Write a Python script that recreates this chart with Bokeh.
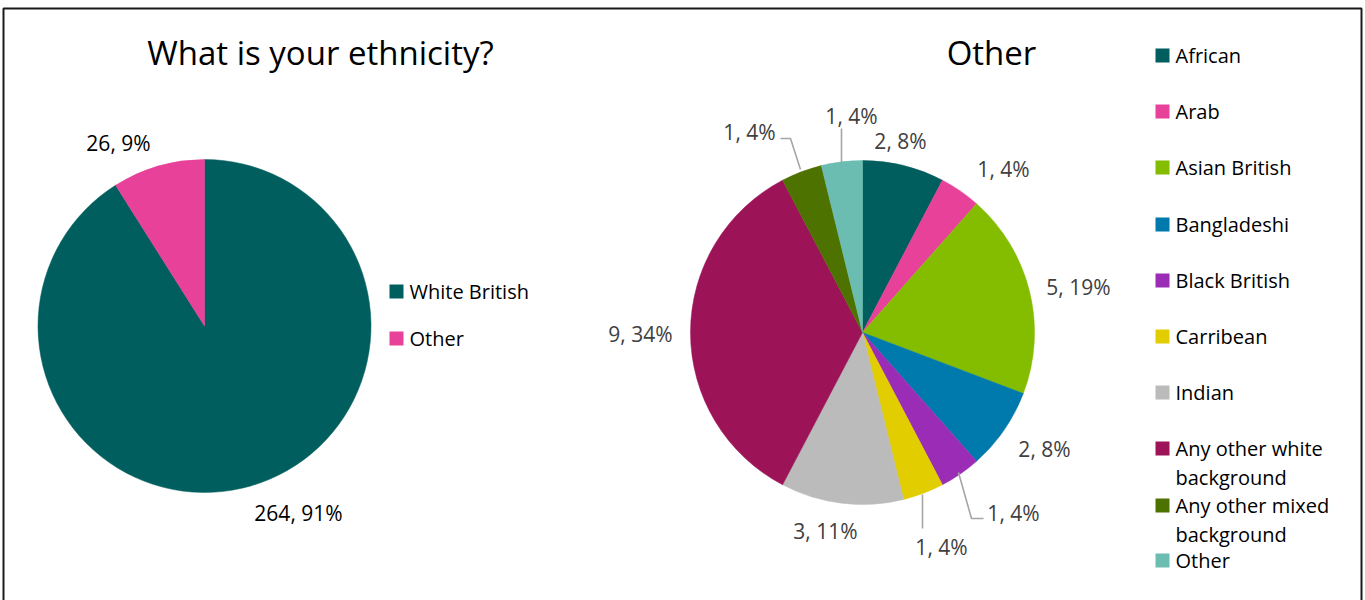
import math
from bokeh.plotting import figure
from bokeh.models import Range1d
from bokeh.embed import file_html
from bokeh.resources import INLINE
from bokeh.core.properties import value

# ---------------- data ----------------
main_categories = ["White British", "Other"]
main_values = [264, 26]
main_labels = ["264, 91%", "26, 9%"]

other_categories = ["African", "Arab", "Asian British", "Bangladeshi", "Black British",
                    "Carribean", "Indian", "Any other white background",
                    "Any other mixed background", "Other"]
other_values = [2, 1, 5, 2, 1, 1, 3, 9, 1, 1]
other_labels = ["2, 8%", "1, 4%", "5, 19%", "2, 8%", "1, 4%",
                "1, 4%", "3, 11%", "9, 34%", "1, 4%", "1, 4%"]

# ---------------- styles / layout ----------------
W, H = 1365, 600
FONT = "Open Sans"
LABEL_SIZE = "21px"
LEGEND_SIZE = "20px"
TITLE_SIZE = "33px"
main_colors = ["#005F5E", "#E8419A"]
other_colors = ["#005F5E", "#E8419A", "#84BD00", "#0079AC", "#9B2CB5",
                "#E2CD00", "#BABBBA", "#9C1358", "#4E7200", "#6BBDB1"]

def Y(sy):  # screen y -> data y
    return H - sy

p = figure(width=W, height=H, output_backend="svg", toolbar_location=None,
           x_range=Range1d(0, W), y_range=Range1d(0, H), min_border=0)
p.axis.visible = False
p.grid.visible = False
p.outline_line_color = None
p.background_fill_color = "white"
p.border_fill_color = "white"

# outer frame
p.quad(left=[3], right=[1361], top=[Y(8)], bottom=[-20], fill_alpha=0,
       line_color="#1a1a1a", line_width=2)

def pie(cx, cy, r, vals, colors):
    total = sum(vals)
    cum = 0
    starts, ends = [], []
    for v in vals:
        starts.append(math.pi / 2 - 2 * math.pi * cum / total)
        cum += v
        ends.append(math.pi / 2 - 2 * math.pi * cum / total)
    p.wedge(x=[cx] * len(vals), y=[Y(cy)] * len(vals), radius=r,
            start_angle=starts, end_angle=ends, direction="clock",
            fill_color=colors, line_color=colors, line_width=0.5)

# ---------------- left pie ----------------
pie(204, 325.5, 166.5, main_values, main_colors)
p.text(x=[320], y=[Y(52)], text=["What is your ethnicity?"], text_align="center",
       text_baseline="middle", text_font=value(FONT), text_font_size=TITLE_SIZE,
       text_color="#000000")
main_label_pos = [(298, 512), (118, 142)]
p.text(x=[q[0] for q in main_label_pos], y=[Y(q[1]) for q in main_label_pos],
       text=main_labels, text_align="center", text_baseline="middle",
       text_font=value(FONT), text_font_size=LABEL_SIZE, text_color="#000000")
# legend left
leg_y = [291, 338]
p.rect(x=[396] * 2, y=[Y(v) for v in leg_y], width=14, height=14,
       fill_color=main_colors, line_color=None)
p.text(x=[409] * 2, y=[Y(v) for v in leg_y], text=main_categories,
       text_align="left", text_baseline="middle", text_font=value(FONT),
       text_font_size=LEGEND_SIZE, text_color="#000000")

# ---------------- right pie ----------------
pie(862, 332, 172, other_values, other_colors)
p.text(x=[991], y=[Y(52)], text=["Other"], text_align="center",
       text_baseline="middle", text_font=value(FONT), text_font_size=TITLE_SIZE,
       text_color="#000000")
other_label_pos = [(900, 140), (1003, 168), (1078, 286), (1044, 448), (1013, 512),
                   (941, 546), (825, 530), (640, 333), (749, 131), (851, 115)]
p.text(x=[q[0] for q in other_label_pos], y=[Y(q[1]) for q in other_label_pos],
       text=other_labels, text_align="center", text_baseline="middle",
       text_font=value(FONT), text_font_size=LABEL_SIZE, text_color="#404040")
# leader lines
leaders = [
    [(958, 472), (971, 518), (983, 518)],
    [(922, 494), (922, 528)],
    [(800, 169), (790, 138), (780, 138)],
    [(841, 162), (841, 128)],
]
p.multi_line(xs=[[a[0] for a in l] for l in leaders],
             ys=[[Y(a[1]) for a in l] for l in leaders],
             line_color="#A6A6A6", line_width=1.6)

# legend right (long names wrap onto a second line, as in the reference)
legend_rows = [55, 111, 167, 224, 280, 336, 392, 448, 505, 560]
wrap = {"Any other white background": ("Any other white", "background"),
        "Any other mixed background": ("Any other mixed", "background")}
p.rect(x=[1162] * len(legend_rows), y=[Y(v) for v in legend_rows], width=14, height=14,
       fill_color=other_colors, line_color=None)
lx, ly, lt = [], [], []
for name, row in zip(other_categories, legend_rows):
    lines = wrap.get(name, (name,))
    for k, line in enumerate(lines):
        lx.append(1175)
        ly.append(Y(row + 29 * k))
        lt.append(line)
p.text(x=lx, y=ly, text=lt, text_align="left", text_baseline="middle",
       text_font=value(FONT), text_font_size=LEGEND_SIZE, text_color="#000000")

open("out.html", "w").write(file_html(p, INLINE))
